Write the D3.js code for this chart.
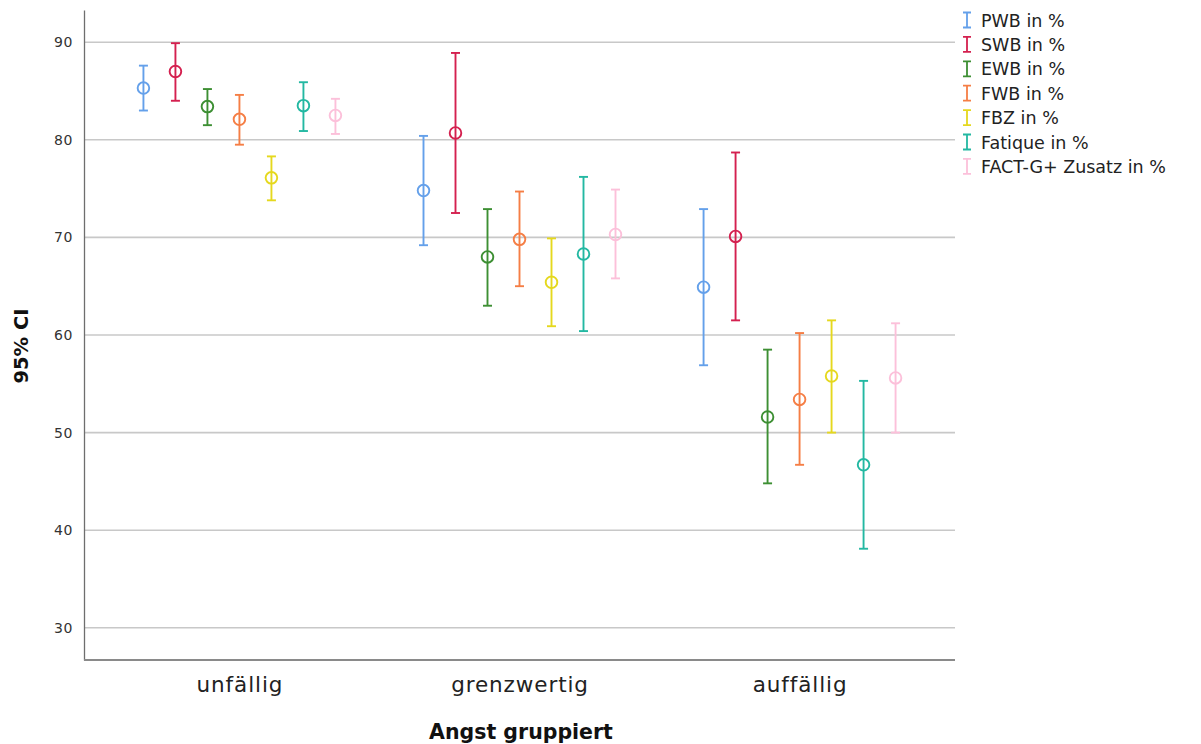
<!DOCTYPE html>
<html>
<head>
<meta charset="utf-8">
<script src="https://cdn.jsdelivr.net/npm/d3@7"></script>
<style>
  html, body { margin: 0; padding: 0; background: #fff; }
  svg { display: block; }
</style>
</head>
<body>
<svg id="chart" width="1201" height="744"></svg>
<script>
// Groups on the x axis
const categories = ["unfällig", "grenzwertig", "auffällig"];
// Scales (one error bar per scale within each group)
const series = ["PWB in %", "SWB in %", "EWB in %", "FWB in %", "FBZ in %", "Fatique in %", "FACT-G+ Zusatz in %"];
const colors = ["#64a0ea", "#d4204f", "#3d8f33", "#f57e45", "#e5d81e", "#23b8a2", "#fcc0da"];

// Means per series, one value per category
const means = [
  [85.3, 74.8, 64.9],
  [87.0, 80.7, 70.1],
  [83.4, 68.0, 51.6],
  [82.1, 69.8, 53.4],
  [76.1, 65.4, 55.8],
  [83.5, 68.3, 46.7],
  [82.5, 70.3, 55.6]
];
// Lower 95% CI bounds
const lower = [
  [83.0, 69.2, 56.9],
  [84.0, 72.5, 61.5],
  [81.5, 63.0, 44.8],
  [79.5, 65.0, 46.7],
  [73.8, 60.9, 50.0],
  [80.9, 60.4, 38.1],
  [80.6, 65.8, 50.0]
];
// Upper 95% CI bounds
const upper = [
  [87.6, 80.4, 72.9],
  [89.9, 88.9, 78.7],
  [85.2, 72.9, 58.5],
  [84.6, 74.7, 60.2],
  [78.3, 69.9, 61.5],
  [85.9, 76.2, 55.3],
  [84.2, 74.9, 61.2]
];
const yTicks = [30, 40, 50, 60, 70, 80, 90];

const svg = d3.select("#chart");
const plotL = 84, plotR = 955, plotT = 10, plotB = 660;

const y = d3.scaleLinear().domain([26.7, 93.3]).range([plotB, plotT]);
const x = d3.scalePoint().domain(categories).range([plotL, plotR]).padding(0.555);
const xs = d3.scalePoint().domain(series).range([-96, 96]);

// gridlines
svg.append("g")
  .selectAll("line")
  .data(yTicks)
  .join("line")
  .attr("x1", plotL).attr("x2", plotR)
  .attr("y1", d => y(d)).attr("y2", d => y(d))
  .attr("stroke", "#c8c8c8")
  .attr("stroke-width", 1.6);

// y axis
const yAxis = d3.axisLeft(y).tickValues(yTicks).tickSize(0).tickPadding(11);
const gy = svg.append("g").attr("transform", `translate(${plotL},0)`).call(yAxis);
gy.select(".domain").attr("stroke", "#6e6e6e").attr("stroke-width", 1.3);
gy.selectAll("text")
  .attr("font-family", "DejaVu Sans, sans-serif")
  .attr("font-size", 14)
  .attr("letter-spacing", 0.6)
  .attr("fill", "#333");

// x axis
const xAxis = d3.axisBottom(x).tickSize(0).tickPadding(17);
const gx = svg.append("g").attr("transform", `translate(0,${plotB})`).call(xAxis);
gx.select(".domain").attr("stroke", "#8a8a8a").attr("stroke-width", 2).attr("d", `M${plotL},0H${plotR}`);
gx.selectAll("text")
  .attr("font-family", "DejaVu Sans, sans-serif")
  .attr("font-size", 21.5)
  .attr("letter-spacing", 0.9)
  .attr("fill", "#222");

// axis titles
svg.append("text")
  .attr("x", 521).attr("y", 739)
  .attr("text-anchor", "middle")
  .attr("font-family", "DejaVu Sans, sans-serif")
  .attr("font-weight", "bold")
  .attr("font-size", 20.5)
  .attr("fill", "#111")
  .text("Angst gruppiert");

svg.append("text")
  .attr("transform", "translate(28,346) rotate(-90)")
  .attr("text-anchor", "middle")
  .attr("font-family", "DejaVu Sans, sans-serif")
  .attr("font-weight", "bold")
  .attr("font-size", 19.5)
  .attr("fill", "#111")
  .text("95% CI");

// error bars
const capW = 4.5;
series.forEach((s, si) => {
  const g = svg.append("g").attr("stroke", colors[si]).attr("fill", "none").attr("stroke-width", 1.9);
  categories.forEach((c, ci) => {
    const cx = x(c) + xs(s);
    g.append("line").attr("x1", cx).attr("x2", cx)
      .attr("y1", y(upper[si][ci])).attr("y2", y(lower[si][ci]));
    g.append("line").attr("x1", cx - capW).attr("x2", cx + capW)
      .attr("y1", y(upper[si][ci])).attr("y2", y(upper[si][ci]));
    g.append("line").attr("x1", cx - capW).attr("x2", cx + capW)
      .attr("y1", y(lower[si][ci])).attr("y2", y(lower[si][ci]));
    g.append("circle").attr("cx", cx).attr("cy", y(means[si][ci])).attr("r", 5.8)
      .attr("fill", "none");
  });
});

// legend
const lg = svg.append("g").attr("transform", "translate(967,20)");
series.forEach((s, i) => {
  const row = lg.append("g").attr("transform", `translate(0,${i * 24.4})`);
  row.append("path")
    .attr("d", "M-4,-7.5H4M0,-7.5V7.5M-4,7.5H4")
    .attr("stroke", colors[i]).attr("stroke-width", 1.8).attr("fill", "none");
  row.append("text")
    .attr("x", 14).attr("y", 6.5)
    .attr("font-family", "DejaVu Sans, sans-serif")
    .attr("font-size", 17.5)
    .attr("fill", "#222")
    .text(s);
});
</script>
</body>
</html>
